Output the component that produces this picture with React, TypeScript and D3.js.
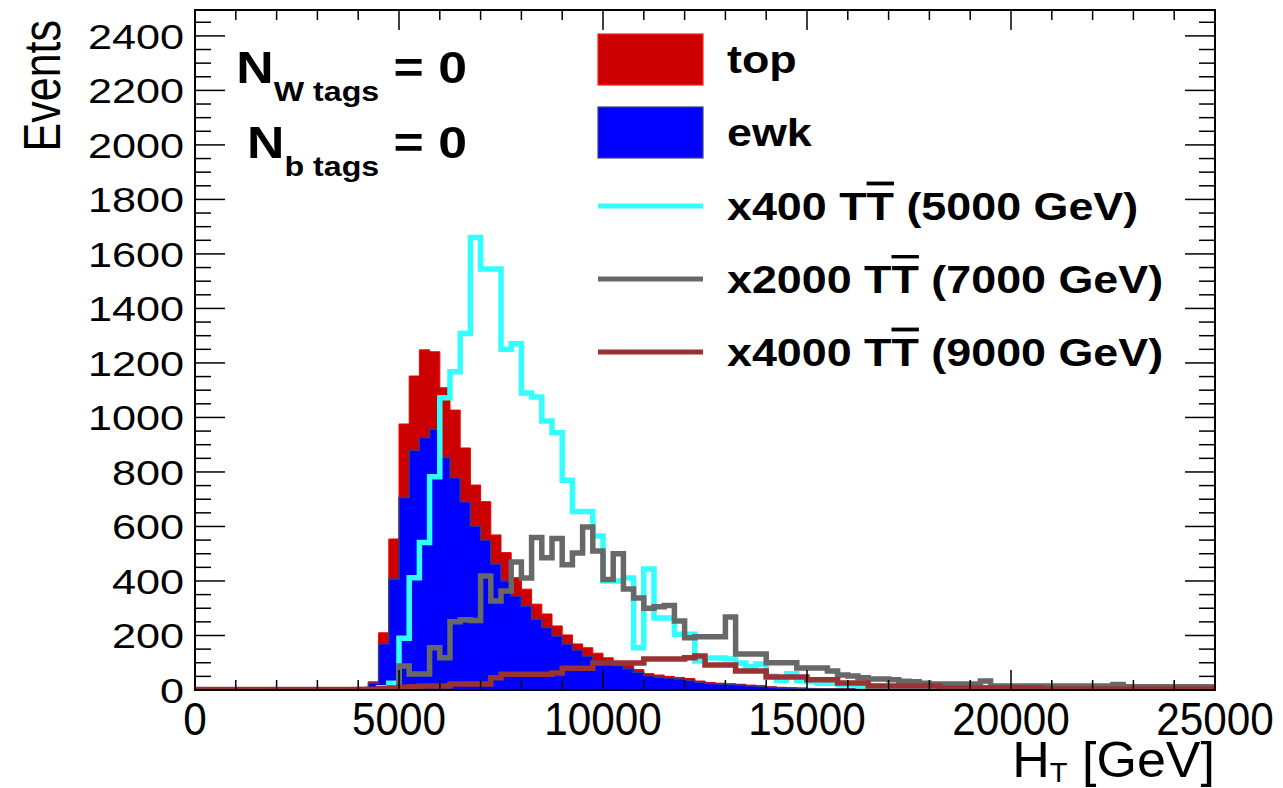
import React from "react";
import * as d3 from "d3";

// H_T binning: 100 bins of 250 GeV
const binEdges = d3.range(0, 25001, 250);

// stacked backgrounds (events per bin)
const ewk = [
  0, 0, 0, 0, 0, 0, 0, 0, 0, 0, 0, 0, 0, 0, 0, 0,
  8, 25, 170, 407, 706, 880, 926, 957, 853, 779,
  691, 602, 550, 462, 400, 345, 308, 260, 229, 198,
  169, 147, 125, 110, 97, 90, 78, 65, 52, 47,
  44, 40, 36, 28, 24, 22, 20, 18, 16, 14,
  10, 8, 7, 6, 5, 4, 4, 4, 4, 3,
  3, 2, 2, 2, 2, 1, 1, 1, 1, 1,
  1, 1, 1, 1, 1, 1, 1, 1, 1, 1,
  1, 1, 1, 1, 1, 1, 1, 1, 1, 1,
  1, 1, 1, 1,
];
const top = [
  0, 0, 0, 0, 0, 0, 0, 0, 0, 0, 0, 0, 0, 0, 0, 0,
  2, 5, 40, 147, 270, 272, 322, 284, 256, 248,
  197, 150, 141, 107, 104, 67, 62, 55, 50, 37,
  33, 22, 30, 25, 21, 14, 12, 10, 8, 8,
  6, 6, 6, 5, 4, 3, 3, 3, 2, 2,
  2, 2, 1, 1, 1, 1, 1, 1, 1, 0,
  0, 0, 0, 0, 0, 0, 0, 0, 0, 0,
  0, 0, 0, 0, 0, 0, 0, 0, 0, 0,
  0, 0, 0, 0, 0, 0, 0, 0, 0, 0,
  0, 0, 0, 0,
];

// scaled signals
const sig5000 = [
  0, 0, 0, 0, 0, 0, 0, 0, 0, 0, 0, 0, 0, 0, 0, 0, 0, 0,
  8, 25, 190, 412, 541, 782, 1072, 1168, 1308, 1660,
  1545, 1545, 1250, 1270, 1090, 1075, 987, 944, 770, 655,
  655, 565, 400, 400, 411, 155, 444, 264, 264, 205,
  205, 106, 117, 117, 114, 99, 85, 95, 50, 35,
  60, 35, 30, 25, 25, 20, 18, 15, 15, 10,
  5, 3, 5, 5, 4, 5, 6, 5, 8, 8,
  7, 8, 10, 10, 8, 10, 9, 6, 5, 5,
  4, 3, 3, 3, 3, 3, 3, 3, 3, 3,
  3, 3,
];
const sig7000 = [
  0, 0, 0, 0, 0, 0, 0, 0, 0, 0, 0, 0, 0, 0, 0, 0, 0, 0, 0, 0,
  88, 59, 59, 155, 118, 250, 258, 255, 418, 327,
  363, 470, 411, 560, 485, 556, 460, 503, 598, 510,
  405, 500, 371, 338, 300, 305, 310, 253, 192, 195,
  195, 195, 268, 132, 132, 132, 100, 100, 100, 81,
  81, 81, 70, 55, 51, 45, 40, 40, 38, 32,
  30, 25, 22, 22, 22, 22, 22, 33, 15, 15,
  15, 15, 15, 15, 15, 15, 15, 15, 15, 15,
  20, 12, 12, 12, 12, 12, 12, 12, 12, 12,
];
const sig9000 = [
  2, 2, 2, 2, 2, 2, 2, 2, 2, 2, 2, 2, 2, 2, 2, 2, 2,
  3, 5, 7, 10, 12, 15, 15, 15, 22, 22,
  22, 22, 45, 58, 58, 58, 58, 58, 62, 80,
  80, 80, 99, 99, 99, 99, 99, 114, 114, 114,
  114, 118, 125, 92, 92, 92, 70, 70, 70, 48,
  48, 48, 48, 38, 38, 38, 26, 26, 26, 15,
  15, 15, 15, 15, 15, 15, 7, 7, 7, 7,
  7, 7, 7, 7, 7, 7, 4, 4, 4, 4,
  4, 4, 4, 4, 4, 4, 4, 4, 4, 4,
  4, 4, 4,
];

const xMajor = d3.range(0, 25001, 5000);
const xMinor = d3.range(0, 25001, 1000);
const yMajor = d3.range(0, 2401, 200);
const yMinor = d3.range(0, 2496, 50);

const legendFills = [
  { label: "top", color: "#cc0000", edge: "#ff2020" },
  { label: "ewk", color: "#0000ff", edge: "#404080" },
];
const legendLines = [
  { scale: "x400", mass: "5000 GeV", color: "#33ffff" },
  { scale: "x2000", mass: "7000 GeV", color: "#686868" },
  { scale: "x4000", mass: "9000 GeV", color: "#993333" },
];

const W = 1283;
const H = 788;
const L = 195, R = 1215, T = 10, B = 690;
const SX = 1.2; // the picture is stretched sideways

export default function App() {
  const x = d3.scaleLinear().domain([0, 25000]).range([L, R]);
  const y = d3.scaleLinear().domain([0, 2495]).range([B, T]);

  const steps = (vals: number[]) =>
    [...vals.map((v, i) => [binEdges[i], v]), [binEdges[100], vals[99]]] as [number, number][];

  const line = d3.line<[number, number]>()
    .x(d => x(d[0]))
    .y(d => y(d[1]))
    .curve(d3.curveStepAfter);
  const area = d3.area<[number, number]>()
    .x(d => x(d[0]))
    .y0(y(0))
    .y1(d => y(d[1]))
    .curve(d3.curveStepAfter);

  const total = ewk.map((v, i) => v + top[i]);

  const font = "'Liberation Sans', Arial, Helvetica, sans-serif";

  return (
    <svg width={W} height={H} style={{ position: "absolute", left: 0, top: 0, background: "#fff" }}
      fontFamily={font}>
      <defs>
        <clipPath id="frame">
          <rect x={L} y={T} width={R - L} height={B - T} />
        </clipPath>
      </defs>

      <g clipPath="url(#frame)">
        <path d={area(steps(total)) ?? ""} fill="#cc0000" stroke="#ee0000" strokeWidth={1} />
        <path d={area(steps(ewk)) ?? ""} fill="#0000ff" stroke="#3a3a80" strokeWidth={1.5} />
        <path d={line(steps(sig5000)) ?? ""} fill="none" stroke="#33ffff" strokeWidth={5.5} />
        <path d={line(steps(sig7000)) ?? ""} fill="none" stroke="#686868" strokeWidth={5.5} />
        <path d={line(steps(sig9000)) ?? ""} fill="none" stroke="#993333" strokeWidth={5.5} />
      </g>

      {/* frame and ticks */}
      <rect x={L} y={T} width={R - L} height={B - T} fill="none" stroke="#000" strokeWidth={2} />
      {xMinor.map(v => {
        const len = xMajor.includes(v) ? 20 : 10;
        return (
          <g key={"xt" + v} stroke="#000" strokeWidth={1.5}>
            <line x1={x(v)} x2={x(v)} y1={B} y2={B - len} />
            <line x1={x(v)} x2={x(v)} y1={T} y2={T + len} />
          </g>
        );
      })}
      {yMinor.map(v => {
        const len = yMajor.includes(v) ? 30 : 16;
        return (
          <g key={"yt" + v} stroke="#000" strokeWidth={1.5}>
            <line x1={L} x2={L + len} y1={y(v)} y2={y(v)} />
            <line x1={R} x2={R - len} y1={y(v)} y2={y(v)} />
          </g>
        );
      })}

      {/* tick labels */}
      {yMajor.map(v => (
        <text key={"yl" + v} transform={`translate(184,${y(v) + 13}) scale(${SX},1)`}
          textAnchor="end" fontSize={36}>{v}</text>
      ))}
      {xMajor.map(v => (
        <text key={"xl" + v} transform={`translate(${x(v)},735) scale(0.9,1)`}
          textAnchor="middle" fontSize={47}>{v}</text>
      ))}

      {/* axis titles */}
      <text transform={`translate(60,20) rotate(-90) scale(1,${SX})`} textAnchor="end" fontSize={43}>Events</text>
      <text transform={`translate(1215,777) scale(1.04,1)`} textAnchor="end" fontSize={50}>
        H<tspan fontSize={28} dy={5}>T</tspan><tspan dy={-5}> [GeV]</tspan>
      </text>

      {/* selection labels */}
      <text transform={`translate(467,83) scale(1.15,1)`} textAnchor="end" fontSize={45} fontWeight="bold">
        N<tspan fontSize={28} dy={18}>W tags</tspan><tspan dy={-18}> = 0</tspan>
      </text>
      <text transform={`translate(467,158) scale(1.15,1)`} textAnchor="end" fontSize={45} fontWeight="bold">
        N<tspan fontSize={28} dy={18}>b tags</tspan><tspan dy={-18}> = 0</tspan>
      </text>

      {/* legend */}
      {legendFills.map((d, i) => (
        <g key={d.label}>
          <rect x={598} y={34 + i * 73} width={105} height={51} fill={d.color} stroke={d.edge} strokeWidth={1.2} />
          <text transform={`translate(727,${73 + i * 73}) scale(1.18,1)`} fontSize={38} fontWeight="bold">{d.label}</text>
        </g>
      ))}
      {legendLines.map((d, i) => (
        <g key={d.scale}>
          <line x1={598} x2={703} y1={206 + i * 73} y2={206 + i * 73} stroke={d.color} strokeWidth={5} />
          <text transform={`translate(727,${220 + i * 73}) scale(1.18,1)`} fontSize={38} fontWeight="bold">
            {d.scale} T<tspan style={{ textDecoration: "overline" }}>T</tspan> ({d.mass})
          </text>
        </g>
      ))}
    </svg>
  );
}
